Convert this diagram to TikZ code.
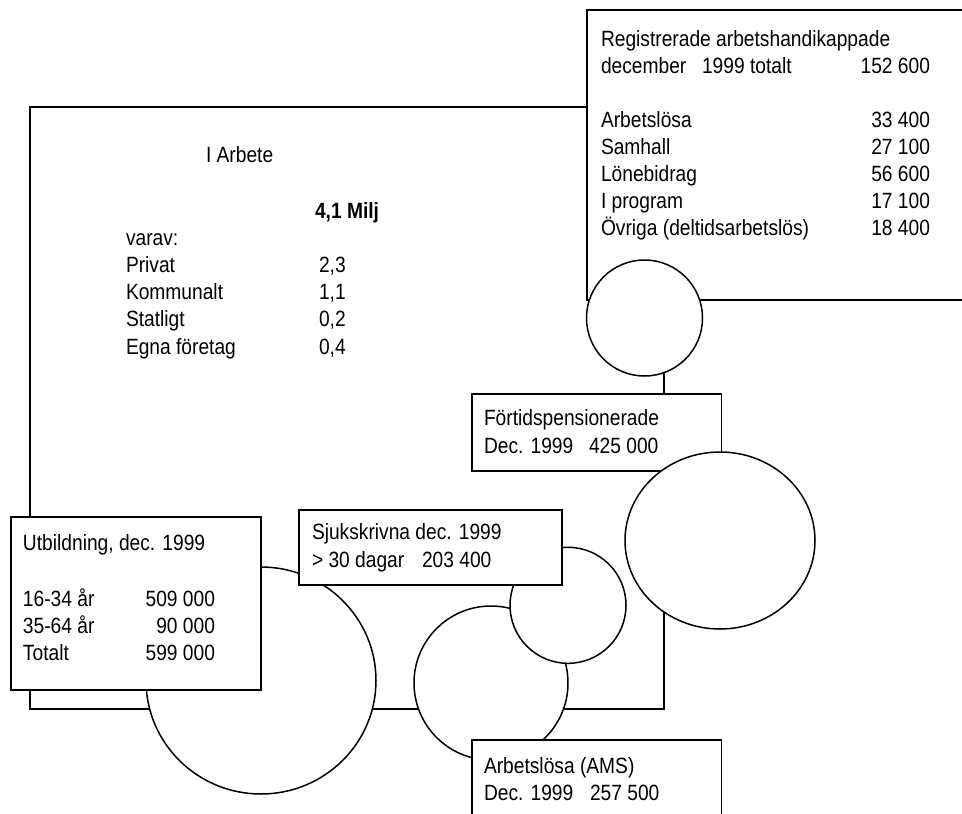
\documentclass[tikz,border=0pt]{standalone}
\usepackage{fontspec}
\setmainfont{Liberation Sans}
\usetikzlibrary{shapes.geometric}
\newcommand\stx[1]{\scalebox{1}[1.15]{#1}}
\begin{document}
\begin{tikzpicture}[x=1pt,y=-1pt,
  boxnode/.style={draw,line width=1.9pt,fill=white,rectangle,inner sep=0pt,outer sep=0pt,anchor=north west},
  ringnode/.style={draw,line width=1.5pt,fill=white,ellipse,inner sep=0pt,outer sep=0pt},
  txt/.style={inner sep=0pt,outer sep=0pt,anchor=base west,font=\fontsize{19.2}{23}\selectfont},
  num/.style={txt,anchor=base east}]
\clip (0,0) rectangle (962,814);
\fill[white] (0,0) rectangle (962,814);
% I Arbete frame
\node[boxnode,minimum width=634pt,minimum height=602pt] (arbete) at (30,107) {};
\node[txt] (t1) at (206,162) {\stx{I Arbete}};
\node[txt,font=\fontsize{19.2}{23}\selectfont\bfseries] (t2) at (315,218) {\stx{4,1 Milj}};
\node[txt] (t3) at (126,245) {\stx{varav:}};
\node[txt] (t4) at (126,272.3) {\stx{Privat}};
\node[txt] (t4n) at (319,272.3) {\stx{2,3}};
\node[txt] (t5) at (126,299.6) {\stx{Kommunalt}};
\node[txt] (t5n) at (319,299.6) {\stx{1,1}};
\node[txt] (t6) at (126,326.9) {\stx{Statligt}};
\node[txt] (t6n) at (319,326.9) {\stx{0,2}};
\node[txt] (t7) at (126,354.2) {\stx{Egna företag}};
\node[txt] (t7n) at (319,354.2) {\stx{0,4}};
% Registrerade box
\node[boxnode,minimum width=400pt,minimum height=290pt] (reg) at (587,10) {};
\node[txt] (r1) at (601,46) {\stx{Registrerade arbetshandikappade}};
\node[txt] (r2) at (601,73) {\stx{december}};
\node[txt] (r2b) at (702,73) {\stx{1999 totalt}};
\node[num] (r2n) at (930,73) {\stx{152 600}};
\node[txt] (r3) at (601,127.5) {\stx{Arbetslösa}};
\node[num] (r3n) at (930,127.5) {\stx{33 400}};
\node[txt] (r4) at (601,154.6) {\stx{Samhall}};
\node[num] (r4n) at (930,154.6) {\stx{27 100}};
\node[txt] (r5) at (601,181.7) {\stx{Lönebidrag}};
\node[num] (r5n) at (930,181.7) {\stx{56 600}};
\node[txt] (r6) at (601,208.8) {\stx{I program}};
\node[num] (r6n) at (930,208.8) {\stx{17 100}};
\node[txt] (r7) at (601,235.9) {\stx{Övriga (deltidsarbetslös)}};
\node[num] (r7n) at (930,235.9) {\stx{18 400}};
% small circle under Registrerade
\node[ringnode,minimum width=116pt,minimum height=116pt] (c1) at (644.5,318) {};
% Förtidspensionerade box
\node[boxnode,minimum width=249.5pt,minimum height=77pt] (fort) at (472,394) {};
\node[txt] (f1) at (484,425.6) {\stx{Förtidspensionerade}};
\node[txt] (f2) at (484,453.6) {\stx{Dec. 1999}};
\node[txt] (f2n) at (589,453.6) {\stx{425 000}};
% big right ellipse
\node[ringnode,minimum width=190pt,minimum height=177pt] (c2) at (720,540.5) {};
% big left circle
\node[ringnode,minimum width=230pt,minimum height=227pt] (c3) at (261,680.5) {};
% Utbildning box
\node[boxnode,minimum width=250pt,minimum height=173pt] (utb) at (11,517) {};
\node[txt] (u1) at (23,550.7) {\stx{Utbildning, dec. 1999}};
\node[txt] (u2) at (23,606.5) {\stx{16-34 år}};
\node[num] (u2n) at (215,606.5) {\stx{509 000}};
\node[txt] (u3) at (23,633.3) {\stx{35-64 år}};
\node[num] (u3n) at (215,633.3) {\stx{90 000}};
\node[txt] (u4) at (23,660.3) {\stx{Totalt}};
\node[num] (u4n) at (215,660.3) {\stx{599 000}};
% middle circle
\node[ringnode,minimum width=154pt,minimum height=154pt] (c4) at (491,683) {};
% Sjukskrivna small circle
\node[ringnode,minimum width=116pt,minimum height=116pt] (c5) at (568,605.3) {};
% Sjukskrivna box
\node[boxnode,minimum width=263pt,minimum height=75pt] (sjuk) at (299,510) {};
\node[txt] (s1) at (312,539.3) {\stx{Sjukskrivna dec. 1999}};
\node[txt] (s2) at (312,567.5) {\stx{> 30 dagar}};
\node[txt] (s2n) at (422,567.5) {\stx{203 400}};
% Arbetslösa (AMS) box
\node[boxnode,minimum width=249.5pt,minimum height=100pt] (ams) at (472,740) {};
\node[txt] (a1) at (484,773) {\stx{Arbetslösa (AMS)}};
\node[txt] (a2) at (484,800) {\stx{Dec. 1999}};
\node[txt] (a2n) at (590,800) {\stx{257 500}};
\end{tikzpicture}
\end{document}
